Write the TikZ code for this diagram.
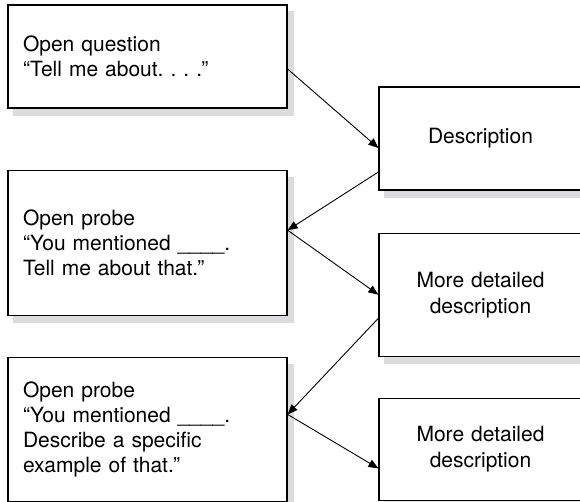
\documentclass[tikz,border=0pt]{standalone}
\usepackage{fontspec}
\setmainfont{TeX Gyre Heros}
\usetikzlibrary{positioning, arrows.meta, backgrounds}
\definecolor{shadowgray}{HTML}{DCDCDE}

\begin{document}
\begin{tikzpicture}[x=1pt, y=1pt, font=\fontsize{21}{25}\selectfont,
  box/.style={draw, line width=1.2pt, fill=white},
  askbox/.style={box, inner xsep=15pt, inner ysep=0pt, text width=249pt, align=left},
  tellbox/.style={box, inner sep=0pt, text width=203pt, align=center,
    font=\fontsize{21}{26}\selectfont},
  shade/.style={fill=shadowgray, draw=none},
  link/.style={-{Triangle[length=10pt, width=8pt]}, line width=0.9pt}]
  \useasboundingbox (0,0) rectangle (580,-501);
  % questions on the left
  \node[askbox, minimum height=103pt] (ask1) at (147.5,-56.5)
    {Open question\\“Tell me about.~.~.~.”};
  \node[askbox, minimum height=145pt, below=61pt of ask1] (ask2)
    {Open probe\\“You mentioned \_\_\_\_.\\Tell me about that.”};
  \node[askbox, minimum height=144pt, below=41pt of ask2] (ask3)
    {Open probe\\“You mentioned \_\_\_\_.\\Describe a specific\\example of that.”};
  % answers on the right
  \node[tellbox, minimum height=103pt] (tell1) at (480.5,-138.5) {Description};
  \node[tellbox, minimum height=123pt, below=42pt of tell1] (tell2)
    {More detailed\\description};
  \node[tellbox, minimum height=102pt, below=41pt of tell2] (tell3)
    {More detailed\\description};
  % shadows
  \begin{scope}[on background layer]
    \foreach \b in {ask1, ask2, ask3, tell1, tell2, tell3}
      \fill[shade] ([shift={(6pt,-7pt)}]\b.south west) rectangle ([shift={(6pt,-7pt)}]\b.north east);
  \end{scope}
  % links
  \draw[link] ([yshift=-12.5pt]ask1.east) -- ([yshift=-9.5pt]tell1.west);
  \draw[link] ([yshift=-33.5pt]tell1.west) -- ([yshift=12.5pt]ask2.east);
  \draw[link] ([yshift=12.5pt]ask2.east) -- (tell2.west);
  \draw[link] ([yshift=-23.5pt]tell2.west) -- ([yshift=15pt]ask3.east);
  \draw[link] ([yshift=15pt]ask3.east) -- ([yshift=-19pt]tell3.west);
\end{tikzpicture}
\end{document}
